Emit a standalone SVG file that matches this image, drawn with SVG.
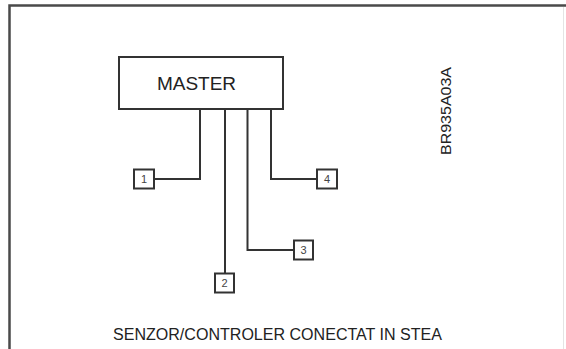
<svg xmlns="http://www.w3.org/2000/svg" width="566" height="349" viewBox="0 0 566 349">
<style>
.frame{fill:none;stroke:#4a4a4a;stroke-width:2.5}
.box{fill:#fff;stroke:#333;stroke-width:2}
.wire{fill:none;stroke:#333;stroke-width:2}
.lbl{font-family:"Liberation Sans",Arial,sans-serif;fill:#222}
.num{font-family:"Liberation Sans",Arial,sans-serif;font-size:11px;fill:#444;text-anchor:middle}
</style>
<rect width="566" height="349" fill="#fff"/>
<path class="frame" d="M9.5,349 V5.5 H566"/>
<line x1="563.5" y1="7" x2="563.5" y2="349" stroke="#e4e4e4" stroke-width="1"/>
<g id="connectors">
<path class="wire" d="M200,109 V179 H154"/>
<path class="wire" d="M225,109 V273"/>
<path class="wire" d="M247.5,109 V250 H294"/>
<path class="wire" d="M271,109 V179 H317"/>
</g>
<g id="master">
<rect class="box" x="119" y="57" width="164" height="52"/>
<text class="lbl" x="196.5" y="89.5" font-size="19" text-anchor="middle">MASTER</text>
</g>
<g id="node1">
<rect class="box" x="134" y="169.5" width="20" height="19"/>
<text class="num" x="144" y="183">1</text>
</g>
<g id="node2">
<rect class="box" x="215" y="273.5" width="19" height="19"/>
<text class="num" x="224.5" y="287">2</text>
</g>
<g id="node3">
<rect class="box" x="294" y="240.5" width="19" height="19"/>
<text class="num" x="303.5" y="254">3</text>
</g>
<g id="node4">
<rect class="box" x="317" y="169.5" width="20" height="19"/>
<text class="num" x="327" y="183">4</text>
</g>
<text class="lbl" x="451" y="155" font-size="15.5" transform="rotate(-90 451 155)" textLength="88" lengthAdjust="spacingAndGlyphs">BR935A03A</text>
<text class="lbl" x="113" y="339.5" font-size="16" textLength="329" lengthAdjust="spacingAndGlyphs">SENZOR/CONTROLER CONECTAT IN STEA</text>
</svg>
